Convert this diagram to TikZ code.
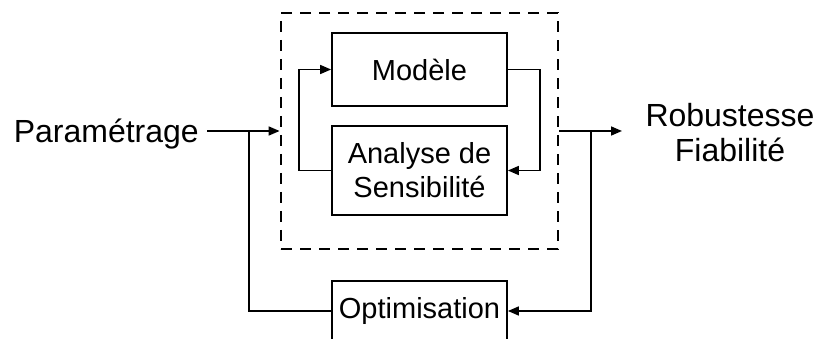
\documentclass[tikz,border=0pt]{standalone}
\usepackage{fontspec}
\setmainfont{Liberation Sans}
\usetikzlibrary{arrows.meta,positioning,calc}
\begin{document}
\begin{tikzpicture}[x=1pt,y=-1pt,
  blockbox/.style={draw,line width=1.8pt,minimum width=175pt,align=center,inner sep=0pt,
     font=\fontsize{29}{34}\selectfont},
  outtext/.style={align=center,inner sep=0pt,font=\fontsize{32}{35}\selectfont},
  conn/.style={line width=1.6pt},
  arr/.style={conn,-{Triangle[length=11pt,width=9pt]}},
  dashbox/.style={draw,line width=2.8pt,dash pattern=on 11pt off 8pt,inner sep=0pt}
]
\useasboundingbox (0,0) rectangle (817,339);
% dashed container
\node[dashbox,minimum width=277pt,minimum height=236pt] (cont) at (419.5,131) {};
% blocks
\node[blockbox,minimum height=73pt] (modele) at (419.5,69.5) {Modèle};
\node[blockbox,minimum height=89pt] (analyse) at (419.5,170.5) {Analyse de\\Sensibilité};
\node[blockbox,minimum height=60pt] (opt) at (419.5,311) {Optimisation};
% outer texts
\node[outtext,anchor=east] (param) at (199,134) {Paramétrage};
\node[outtext] (rob) at (730,133) {Robustesse\\Fiabilité};
% coordinates
\coordinate (pin) at (207,131);
\coordinate (j1) at (249,131);
\coordinate (j2) at (591,131);
\coordinate (pout) at (622,131);
\coordinate (lloop) at (299,170.5);
\coordinate (rloop) at (540,69.5);
% connectors
\draw[arr] (pin) -- (cont.west);
\draw[conn] (j1) |- (opt.west);
\draw[arr] (cont.east) -- (pout);
\draw[arr] (j2) |- (opt.east);
\draw[arr] (analyse.west) -- (lloop) |- (modele.west);
\draw[arr] (modele.east) -- (rloop) |- (analyse.east);
\end{tikzpicture}
\end{document}
